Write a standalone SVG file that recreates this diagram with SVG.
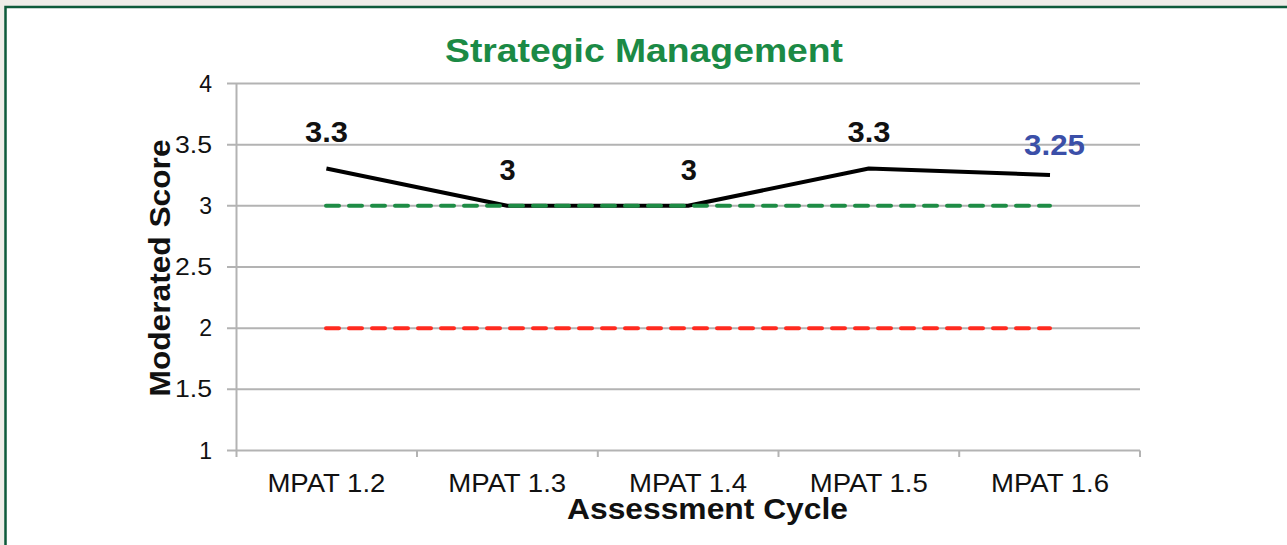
<svg xmlns="http://www.w3.org/2000/svg" width="1287" height="545" viewBox="0 0 1287 545">
  <style>
    text { font-family: "Liberation Sans", Arial, sans-serif; }
    .grid { stroke: #b3b3b3; stroke-width: 2; fill: none; }
    .tick { font-size: 23px; fill: #111; text-anchor: end; }
    .xlab { font-size: 25px; fill: #111; text-anchor: middle; }
    .dlab { font-size: 29px; font-weight: bold; fill: #111; text-anchor: middle; }
    .axt { font-size: 30px; font-weight: bold; fill: #111; }
    .dash { stroke-width: 4; stroke-linecap: round; stroke-dasharray: 13 10; fill: none; }
  </style>
  <rect x="0" y="0" width="1287" height="545" fill="#eeede8"/>
  <rect x="5.5" y="7" width="1290" height="545" fill="#ffffff" stroke="#0d5a3a" stroke-width="2.5"/>

  <g id="title">
    <text x="445" y="61.5" font-size="33" font-weight="bold" fill="#1b8a45" textLength="398" lengthAdjust="spacingAndGlyphs">Strategic Management</text>
  </g>

  <g id="grid">
    <line class="grid" x1="227" y1="83.5" x2="1140" y2="83.5"/>
    <line class="grid" x1="227" y1="144.7" x2="1140" y2="144.7"/>
    <line class="grid" x1="227" y1="205.8" x2="1140" y2="205.8"/>
    <line class="grid" x1="227" y1="267" x2="1140" y2="267"/>
    <line class="grid" x1="227" y1="328.2" x2="1140" y2="328.2"/>
    <line class="grid" x1="227" y1="389.3" x2="1140" y2="389.3"/>
    <line class="grid" x1="227" y1="450.5" x2="1140" y2="450.5"/>
    <line class="grid" x1="236.5" y1="83.5" x2="236.5" y2="457"/>
    <line class="grid" x1="417" y1="450.5" x2="417" y2="457"/>
    <line class="grid" x1="597.8" y1="450.5" x2="597.8" y2="457"/>
    <line class="grid" x1="778.5" y1="450.5" x2="778.5" y2="457"/>
    <line class="grid" x1="959.2" y1="450.5" x2="959.2" y2="457"/>
    <line class="grid" x1="1140" y1="450.5" x2="1140" y2="457"/>
  </g>

  <g id="y-ticks">
    <text class="tick" x="212" y="91.5">4</text>
    <text class="tick" x="212" y="152.7" textLength="37" lengthAdjust="spacingAndGlyphs">3.5</text>
    <text class="tick" x="212" y="213.8">3</text>
    <text class="tick" x="212" y="275" textLength="37" lengthAdjust="spacingAndGlyphs">2.5</text>
    <text class="tick" x="212" y="336.2">2</text>
    <text class="tick" x="212" y="397.3" textLength="37" lengthAdjust="spacingAndGlyphs">1.5</text>
    <text class="tick" x="212" y="458.5">1</text>
  </g>

  <g id="x-labels">
    <text class="xlab" x="326.4" y="492" textLength="118" lengthAdjust="spacingAndGlyphs">MPAT 1.2</text>
    <text class="xlab" x="507.2" y="492" textLength="118" lengthAdjust="spacingAndGlyphs">MPAT 1.3</text>
    <text class="xlab" x="688" y="492" textLength="118" lengthAdjust="spacingAndGlyphs">MPAT 1.4</text>
    <text class="xlab" x="868.8" y="492" textLength="118" lengthAdjust="spacingAndGlyphs">MPAT 1.5</text>
    <text class="xlab" x="1050" y="492" textLength="118" lengthAdjust="spacingAndGlyphs">MPAT 1.6</text>
  </g>

  <g id="axis-titles">
    <text class="axt" x="567" y="518.5" textLength="281" lengthAdjust="spacingAndGlyphs">Assessment Cycle</text>
    <text class="axt" transform="translate(170,268) rotate(-90)" text-anchor="middle" textLength="257" lengthAdjust="spacingAndGlyphs">Moderated Score</text>
  </g>

  <g id="connectors">
    <polyline id="score-line" points="326.4,168.5 507.2,205.8 688,205.8 868.8,168.5 1050,175" fill="none" stroke="#000" stroke-width="4" stroke-linejoin="round"/>
    <line id="target-line" class="dash" x1="326" y1="205.8" x2="1050" y2="205.8" stroke="#1e8c45"/>
    <line id="minimum-line" class="dash" x1="326" y1="328.2" x2="1050" y2="328.2" stroke="#ff2a1f"/>
  </g>

  <g id="data-labels">
    <text class="dlab" x="326.5" y="141.5" textLength="43" lengthAdjust="spacingAndGlyphs">3.3</text>
    <text class="dlab" x="507.5" y="180">3</text>
    <text class="dlab" x="688.7" y="180">3</text>
    <text class="dlab" x="869" y="141.5" textLength="43" lengthAdjust="spacingAndGlyphs">3.3</text>
    <text class="dlab" x="1054.5" y="155" style="fill:#3b4fa8" textLength="61" lengthAdjust="spacingAndGlyphs">3.25</text>
  </g>
</svg>
